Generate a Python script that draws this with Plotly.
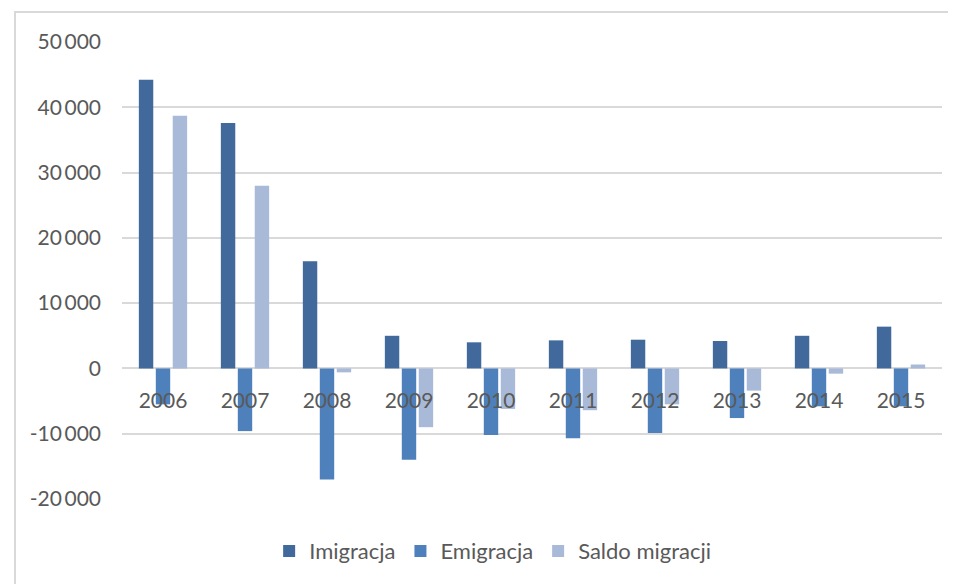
import plotly.graph_objects as go

years = ["2006", "2007", "2008", "2009", "2010", "2011", "2012", "2013", "2014", "2015"]
imigracja = [44200, 37600, 16400, 5000, 4000, 4300, 4400, 4200, 5000, 6400]
emigracja = [-5500, -9600, -17000, -14000, -10200, -10700, -9900, -7600, -5800, -5800]
saldo = [38700, 28000, -600, -9000, -6200, -6400, -5500, -3400, -800, 600]

y_ticks = [-20000, -10000, 0, 10000, 20000, 30000, 40000, 50000]
y_tick_labels = ["-20\u2009000", "-10\u2009000", "0", "10\u2009000", "20\u2009000",
                 "30\u2009000", "40\u2009000", "50\u2009000"]

colors = {"Imigracja": "#41699C", "Emigracja": "#4E80BC", "Saldo migracji": "#A9B9D8"}

fig = go.Figure()
for name, vals in [("Imigracja", imigracja), ("Emigracja", emigracja), ("Saldo migracji", saldo)]:
    fig.add_trace(go.Bar(x=years, y=vals, name=name, marker_color=colors[name], marker_line_width=0))

ymin, ymax = -20000, 50000
zero_pos = (0 - ymin) / (ymax - ymin)

fig.update_layout(
    width=948, height=576,
    margin=dict(l=114, r=14, t=34, b=85),
    paper_bgcolor="white", plot_bgcolor="white",
    font=dict(family="Lato, Noto Sans, sans-serif", color="#595959"),
    barmode="group", bargap=0.38, bargroupgap=0.15,
    showlegend=True,
    legend=dict(orientation="h", x=0.452, xanchor="center", y=-0.114, yanchor="middle",
                font=dict(size=22, color="#595959"), itemwidth=30, traceorder="normal"),
    xaxis=dict(anchor="free", position=zero_pos, showline=False, showgrid=False,
               ticks="", tickfont=dict(size=21, color="#595959"), ticklabelstandoff=18),
    yaxis=dict(range=[ymin, ymax], tickvals=y_ticks, ticktext=y_tick_labels, showgrid=True,
               gridcolor="#D9D9D9", gridwidth=1.5, zeroline=False, showline=False,
               tickfont=dict(size=21, color="#595959"), ticklabelstandoff=20),
    shapes=[dict(type="rect", xref="paper", yref="paper", x0=-0.1305, x1=1.2, y0=-0.4, y1=1.0656,
                 line=dict(color="#D9D9D9", width=2), fillcolor="rgba(0,0,0,0)", layer="below")],
)

fig.write_html("out.html")
